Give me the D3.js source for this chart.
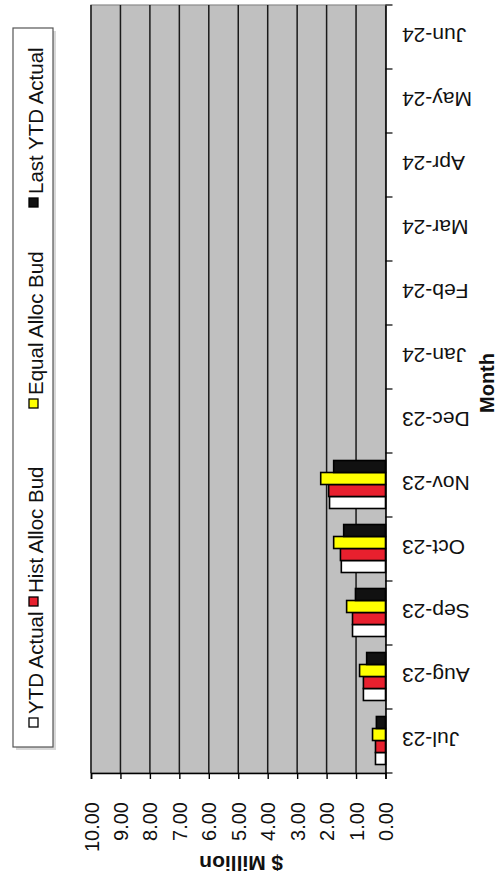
<!DOCTYPE html>
<html>
<head>
<meta charset="utf-8">
<script src="https://cdn.jsdelivr.net/npm/d3@7"></script>
<style>
  html, body { margin: 0; padding: 0; background: #fff; }
  svg { display: block; font-family: "Liberation Sans", Arial, sans-serif; }
</style>
</head>
<body>
<svg id="chart" width="499" height="880"></svg>
<script>
// Monthly cumulative spend, $ million (financial year Jul-23 .. Jun-24)
const months = ["Jul-23", "Aug-23", "Sep-23", "Oct-23", "Nov-23", "Dec-23",
                "Jan-24", "Feb-24", "Mar-24", "Apr-24", "May-24", "Jun-24"];
const seriesNames = ["YTD Actual", "Hist Alloc Bud", "Equal Alloc Bud", "Last YTD Actual"];
const seriesColors = ["#ffffff", "#e8202e", "#ffff00", "#111111"];
const ytdActual     = [0.34, 0.75, 1.12, 1.50, 1.90, null, null, null, null, null, null, null];
const histAllocBud  = [0.34, 0.75, 1.12, 1.53, 1.93, null, null, null, null, null, null, null];
const equalAllocBud = [0.44, 0.88, 1.32, 1.76, 2.20, null, null, null, null, null, null, null];
const lastYtdActual = [0.31, 0.64, 1.02, 1.42, 1.76, null, null, null, null, null, null, null];
const valueTicks = [0, 1, 2, 3, 4, 5, 6, 7, 8, 9, 10];
const valueTitle = "$ Million";
const categoryTitle = "Month";

const seriesValues = [ytdActual, histAllocBud, equalAllocBud, lastYtdActual];

const svg = d3.select("#chart");

// The chart is laid out turned a quarter turn: values grow to the left,
// months run from bottom (Jul) to top (Jun).
const plot = { left: 91, right: 385.5, top: 5, bottom: 773 };

const x = d3.scaleLinear().domain([0, 10]).range([plot.right, plot.left]);
const y = d3.scaleBand().domain(months).range([plot.bottom, plot.top]).padding(0);
const bw = y.bandwidth();
const ySub = d3.scaleBand().domain(seriesNames).range([bw - 8.5, 7.5]).padding(0);

// plot area
svg.append("rect")
  .attr("x", plot.left).attr("y", plot.top)
  .attr("width", plot.right - plot.left).attr("height", plot.bottom - plot.top)
  .attr("fill", "#c0c0c0").attr("stroke", "#8a8a8a").attr("stroke-width", 1.2);

// value gridlines
svg.append("g").selectAll("line")
  .data(valueTicks.filter(v => v > 0))
  .join("line")
  .attr("x1", d => x(d)).attr("x2", d => x(d))
  .attr("y1", plot.top).attr("y2", plot.bottom)
  .attr("stroke", "#1a1a1a").attr("stroke-width", 1.5);

// bars
const groups = svg.append("g").selectAll("g")
  .data(months.map((m, i) => ({ m, vals: seriesNames.map((s, k) => ({ s, k, v: seriesValues[k][i] })) })))
  .join("g")
  .attr("transform", d => `translate(0,${y(d.m)})`);

groups.selectAll("rect")
  .data(d => d.vals.filter(e => e.v != null))
  .join("rect")
  .attr("x", e => x(e.v))
  .attr("y", e => ySub(e.s))
  .attr("width", e => x(0) - x(e.v))
  .attr("height", ySub.bandwidth())
  .attr("fill", e => seriesColors[e.k])
  .attr("stroke", "#000").attr("stroke-width", 1.6);

// value axis (runs along the bottom)
const valueAxis = svg.append("g").attr("transform", `translate(0,${plot.bottom})`)
  .call(d3.axisBottom(x).tickValues(valueTicks).tickSize(6).tickFormat(d3.format(".2f")));
valueAxis.select(".domain").attr("stroke", "#000").attr("stroke-width", 1.6);
valueAxis.selectAll(".tick line").attr("stroke", "#000").attr("stroke-width", 1.4);
valueAxis.selectAll(".tick text")
  .attr("fill", "#111")
  .style("font-size", "20px")
  .attr("text-anchor", "end")
  .attr("dominant-baseline", "central")
  .attr("x", 0).attr("y", 0).attr("dy", null)
  .attr("transform", "translate(0,29) rotate(-90)");

// category axis (runs along the right edge)
const catAxis = svg.append("g").attr("transform", `translate(${plot.right},0)`)
  .call(d3.axisRight(y).tickSize(0).tickFormat(""));
catAxis.select(".domain").attr("stroke", "#000").attr("stroke-width", 1.6);
svg.append("g").selectAll("line")
  .data(months.concat(["__end"]))
  .join("line")
  .attr("x1", plot.right).attr("x2", plot.right + 7)
  .attr("y1", (d, i) => i < months.length ? y(d) + bw : plot.top)
  .attr("y2", (d, i) => i < months.length ? y(d) + bw : plot.top)
  .attr("stroke", "#000").attr("stroke-width", 1.2);

svg.append("g").selectAll("text")
  .data(months)
  .join("text")
  .attr("transform", d => `translate(402,${y(d) + bw / 2 - 2}) rotate(180)`)
  .attr("text-anchor", "end")
  .attr("dominant-baseline", "central")
  .attr("fill", "#111")
  .style("font-size", "21px")
  .text(d => d);

// axis titles
svg.append("text")
  .attr("transform", `translate(${(x(0) + x(10)) / 2 + 3},863) rotate(180)`)
  .attr("text-anchor", "middle").attr("dominant-baseline", "central")
  .style("font-size", "21px").style("font-weight", "bold").attr("fill", "#111")
  .text(valueTitle);

svg.append("text")
  .attr("transform", `translate(494,${(plot.top + plot.bottom) / 2 - 6}) rotate(-90)`)
  .attr("text-anchor", "middle")
  .style("font-size", "20px").style("font-weight", "bold").attr("fill", "#111")
  .text(categoryTitle);

// legend (entries read upward from the bottom)
const legend = { x: 13, y: 28, w: 40, h: 719 };
svg.append("rect")
  .attr("x", legend.x + 3).attr("y", legend.y + 3).attr("width", legend.w).attr("height", legend.h)
  .attr("fill", "#d8d8d8");
svg.append("rect")
  .attr("x", legend.x).attr("y", legend.y).attr("width", legend.w).attr("height", legend.h)
  .attr("fill", "#fff").attr("stroke", "#555").attr("stroke-width", 1.2);

const entryStarts = [727, 606, 408, 207];
const lg = svg.append("g").selectAll("g")
  .data(seriesNames)
  .join("g")
  .attr("transform", (d, i) => `translate(0,${entryStarts[i]})`);
lg.append("rect")
  .attr("x", 29).attr("y", -9).attr("width", 9).attr("height", 9)
  .attr("fill", (d, i) => seriesColors[i]).attr("stroke", "#000").attr("stroke-width", 1.3);
lg.append("text")
  .attr("transform", "translate(42.5,-13) rotate(-90)")
  .attr("text-anchor", "start")
  .style("font-size", "20.5px").attr("fill", "#111")
  .text(d => d);
</script>
</body>
</html>
